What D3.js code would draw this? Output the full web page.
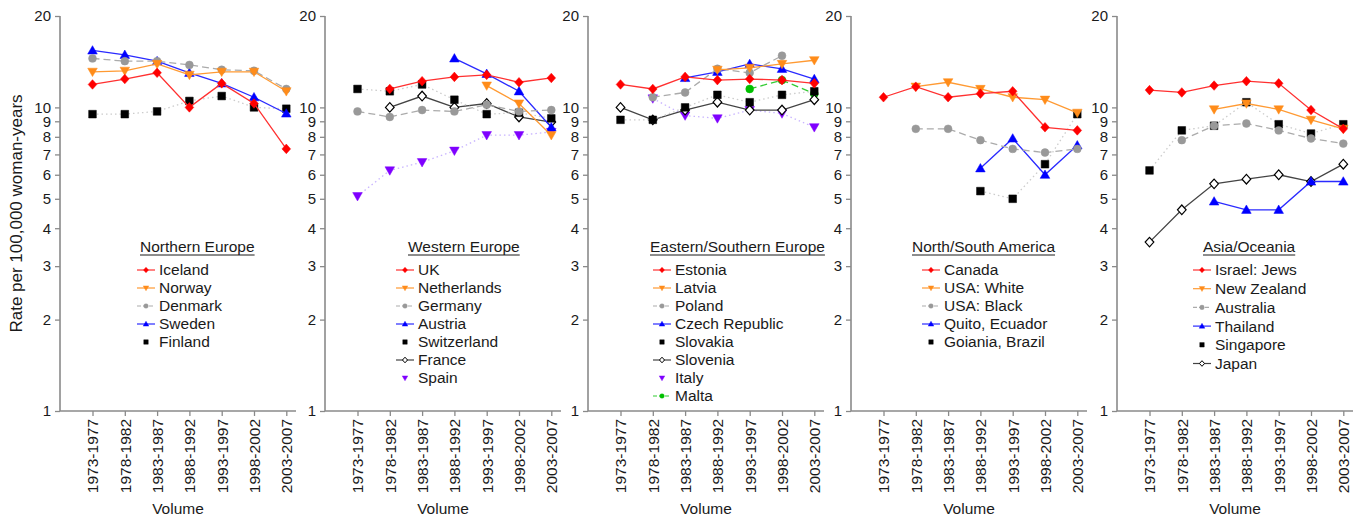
<!DOCTYPE html>
<html>
<head>
<meta charset="utf-8">
<script src="https://cdn.jsdelivr.net/npm/d3@7"></script>
<style>
  body { margin: 0; background: #fff; }
  svg { font-family: "Liberation Sans", Arial, sans-serif; }
</style>
</head>
<body>
<script>
// periods on the x axis, and the log ticks on y
var categories = ["1973-1977", "1978-1982", "1983-1987", "1988-1992", "1993-1997", "1998-2002", "2003-2007"];
var yTicks = [1, 2, 3, 4, 5, 6, 7, 8, 9, 10, 20];

// Northern Europe
var iceland = [11.9, 12.4, 13.0, 10.0, 12.0, 10.3, 7.3];
var norway = [13.1, 13.2, 13.9, 12.8, 13.1, 13.1, 11.3];
var denmark = [14.5, 14.2, 14.2, 13.8, 13.3, 13.2, 11.5];
var sweden = [15.4, 14.9, 14.2, 13.0, 12.0, 10.8, 9.55];
var finland = [9.5, 9.5, 9.7, 10.5, 10.9, 10.0, 9.9];

// Western Europe
var uk = [null, 11.5, 12.2, 12.6, 12.8, 12.1, 12.5];
var netherlands = [null, null, null, null, 11.8, 10.3, 8.1];
var germany = [9.7, 9.3, 9.8, 9.7, 10.2, 9.7, 9.8];
var austria = [null, null, null, 14.5, 12.9, 11.3, 8.6];
var switzerland = [11.5, 11.3, 11.9, 10.6, 9.5, 9.6, 9.2];
var france = [null, 10.0, 10.9, 10.0, 10.3, 9.3, 8.95];
var spain = [5.1, 6.2, 6.6, 7.2, 8.1, 8.1, 8.3];

// Eastern/Southern Europe
var estonia = [11.9, 11.5, 12.6, 12.3, 12.4, 12.3, 12.0];
var latvia = [null, null, null, 13.3, 13.5, 13.9, 14.3];
var poland = [null, 10.8, 11.2, 13.4, 13.0, 14.8, null];
var czech = [null, null, 12.5, 13.1, 13.9, 13.4, 12.4];
var slovakia = [9.1, 9.1, 10.0, 11.0, 10.4, 11.0, 11.3];
var slovenia = [10.0, 9.1, 9.8, 10.4, 9.8, 9.8, 10.6];
var italy = [null, 10.7, 9.4, 9.2, 9.8, 9.55, 8.6];
var malta = [null, null, null, null, 11.5, 12.3, 11.1];

// North/South America
var canada = [10.8, 11.7, 10.8, 11.1, 11.3, 8.6, 8.4];
var usaWhite = [null, 11.7, 12.1, 11.5, 10.8, 10.6, 9.6];
var usaBlack = [null, 8.5, 8.5, 7.8, 7.3, 7.1, 7.3];
var quito = [null, null, null, 6.3, 7.9, 6.0, 7.5];
var goiania = [null, null, null, 5.3, 5.0, 6.5, 9.5];

// Asia/Oceania
var israel = [11.4, 11.2, 11.8, 12.2, 12.0, 9.8, 8.5];
var newZealand = [null, null, 9.85, 10.3, 9.85, 9.1, 8.5];
var australia = [null, 7.8, 8.7, 8.85, 8.4, 7.9, 7.6];
var thailand = [null, null, 4.9, 4.6, 4.6, 5.7, 5.7];
var singapore = [6.2, 8.4, 8.7, 10.4, 8.8, 8.2, 8.8];
var japan = [3.6, 4.6, 5.6, 5.8, 6.0, 5.7, 6.5];

// how each kind of series is drawn
var styles = {
  red:    {mark: "#ff0000", fill: "#ff0000", line: "#ff3030", dash: null,    shape: "diamond", lw: 1.3},
  orange: {mark: "#ff8c1a", fill: "#ff8c1a", line: "#ff9a33", dash: null,    shape: "triDown", lw: 1.3},
  gray:   {mark: "#999999", fill: "#999999", line: "#ababab", dash: "7,4",   shape: "circle",  lw: 1.3},
  blue:   {mark: "#0000ff", fill: "#0000ff", line: "#2a2aff", dash: null,    shape: "triUp",   lw: 1.3},
  black:  {mark: "#000000", fill: "#000000", line: "#cccccc", dash: "1.5,3", shape: "square",  lw: 1.3, noLegendLine: true},
  open:   {mark: "#000000", fill: "#ffffff", line: "#444444", dash: null,    shape: "diamond", lw: 1.3},
  purple: {mark: "#7f00ff", fill: "#7f00ff", line: "#c8b4ff", dash: "1.5,3", shape: "triDown", lw: 1.3, noLegendLine: true},
  green:  {mark: "#00c000", fill: "#00c000", line: "#33cc33", dash: "7,4",   shape: "circle",  lw: 1.3}
};

var panels = [
  {title: "Northern Europe", axisX: 60, titleX: 140, symX: 137, step: 18, series: [
    ["Iceland", iceland, "red"], ["Norway", norway, "orange"], ["Denmark", denmark, "gray"],
    ["Sweden", sweden, "blue"], ["Finland", finland, "black"]]},
  {title: "Western Europe", axisX: 325, titleX: 408, symX: 396, step: 18, series: [
    ["UK", uk, "red"], ["Netherlands", netherlands, "orange"], ["Germany", germany, "gray"],
    ["Austria", austria, "blue"], ["Switzerland", switzerland, "black"], ["France", france, "open"],
    ["Spain", spain, "purple"]]},
  {title: "Eastern/Southern Europe", axisX: 588, titleX: 650, symX: 653, step: 18, series: [
    ["Estonia", estonia, "red"], ["Latvia", latvia, "orange"], ["Poland", poland, "gray"],
    ["Czech Republic", czech, "blue"], ["Slovakia", slovakia, "black"], ["Slovenia", slovenia, "open"],
    ["Italy", italy, "purple"], ["Malta", malta, "green"]]},
  {title: "North/South America", axisX: 851, titleX: 912, symX: 922, step: 18, series: [
    ["Canada", canada, "red"], ["USA: White", usaWhite, "orange"], ["USA: Black", usaBlack, "gray"],
    ["Quito, Ecuador", quito, "blue"], ["Goiania, Brazil", goiania, "black"]]},
  {title: "Asia/Oceania", axisX: 1117, titleX: 1203, symX: 1193, step: 18.7, series: [
    ["Israel: Jews", israel, "red"], ["New Zealand", newZealand, "orange"], ["Australia", australia, "gray"],
    ["Thailand", thailand, "blue"], ["Singapore", singapore, "black"], ["Japan", japan, "open"]]}
];

var W = 1360, H = 521,
    yTop = 16, yBottom = 411,
    axisLen = 236,
    fontSize = 15.5,
    textCol = "#1a1a1a",
    axisCol = "#8a8a8a";

var svg = d3.select("body").append("svg")
  .attr("width", W)
  .attr("height", H);

var y = d3.scaleLog().domain([1, 20]).range([yBottom, yTop]);

// marker outline, r is about half the height
function shapePath(shape, r) {
  var p = d3.path();
  if (shape == "diamond") {
    p.moveTo(0, -r); p.lineTo(r * 0.9, 0); p.lineTo(0, r); p.lineTo(-r * 0.9, 0); p.closePath();
  } else if (shape == "triUp") {
    p.moveTo(0, -r); p.lineTo(r, r * 0.75); p.lineTo(-r, r * 0.75); p.closePath();
  } else if (shape == "triDown") {
    p.moveTo(0, r); p.lineTo(r, -r * 0.75); p.lineTo(-r, -r * 0.75); p.closePath();
  } else if (shape == "square") {
    var s = r * 0.8;
    p.rect(-s, -s, 2 * s, 2 * s);
  } else {
    p.arc(0, 0, r * 0.82, 0, 2 * Math.PI);
  }
  return p.toString();
}

// y axis title
svg.append("text")
  .attr("transform", "translate(22," + ((yTop + yBottom) / 2) + ") rotate(-90)")
  .attr("text-anchor", "middle")
  .style("font-size", "17px")
  .style("fill", textCol)
  .text("Rate per 100,000 woman-years");

panels.forEach(function(pn) {
  var x = d3.scalePoint()
    .domain(categories)
    .range([pn.axisX + 32.5, pn.axisX + 32.5 + 6 * 32.3]);

  var g = svg.append("g");

  // y axis
  var yAxis = g.append("g")
    .attr("transform", "translate(" + pn.axisX + ",0)")
    .call(d3.axisLeft(y).tickValues(yTicks).tickFormat(d3.format("d")).tickSize(5).tickPadding(4));
  yAxis.select(".domain").remove();
  yAxis.selectAll(".tick line").attr("stroke", axisCol).attr("stroke-width", 1.3);
  yAxis.selectAll(".tick text").style("font-size", "15px").style("fill", textCol)
    .style("font-family", "'Liberation Sans', Arial, sans-serif");

  // x axis
  var xAxis = g.append("g")
    .attr("transform", "translate(0," + yBottom + ")")
    .call(d3.axisBottom(x).tickSize(5));
  xAxis.select(".domain").remove();
  xAxis.selectAll(".tick line").attr("stroke", axisCol).attr("stroke-width", 1.3);
  xAxis.selectAll(".tick text")
    .style("font-size", fontSize + "px").style("fill", textCol)
    .style("font-family", "'Liberation Sans', Arial, sans-serif")
    .attr("text-anchor", "end")
    .attr("dy", "0.35em")
    .attr("transform", "translate(0,8) rotate(-90)")
    .attr("x", 0).attr("y", 0);

  g.append("line")
    .attr("x1", pn.axisX).attr("x2", pn.axisX)
    .attr("y1", yTop).attr("y2", yBottom)
    .attr("stroke", axisCol).attr("stroke-width", 1.6);
  g.append("line")
    .attr("x1", pn.axisX).attr("x2", pn.axisX + axisLen)
    .attr("y1", yBottom).attr("y2", yBottom)
    .attr("stroke", axisCol).attr("stroke-width", 1.6);

  g.append("text")
    .attr("x", pn.axisX + axisLen / 2)
    .attr("y", 514)
    .attr("text-anchor", "middle")
    .style("font-size", fontSize + "px")
    .style("fill", textCol)
    .text("Volume");

  var line = d3.line()
    .defined(function(d) { return d != null; })
    .x(function(d, i) { return x(categories[i]); })
    .y(function(d) { return y(d); });

  // draw last series first so the first legend entry ends up on top
  pn.series.slice().reverse().forEach(function(s) {
    var st = styles[s[2]];
    g.append("path")
      .attr("d", line(s[1]))
      .attr("fill", "none")
      .attr("stroke", st.line)
      .attr("stroke-width", st.lw)
      .attr("stroke-dasharray", st.dash);
    g.selectAll(null)
      .data(s[1].map(function(v, i) { return {v: v, i: i}; }).filter(function(d) { return d.v != null; }))
      .enter().append("path")
      .attr("transform", function(d) { return "translate(" + x(categories[d.i]) + "," + y(d.v) + ")"; })
      .attr("d", shapePath(st.shape, 4.8))
      .attr("fill", st.fill)
      .attr("stroke", st.mark)
      .attr("stroke-width", s[2] == "open" ? 1.2 : 0.5);
  });

  // legend
  var title = g.append("text")
    .attr("x", pn.titleX)
    .attr("y", 252)
    .style("font-size", fontSize + "px")
    .style("fill", textCol)
    .text(pn.title);
  var tw = title.node().getComputedTextLength();
  g.append("line")
    .attr("x1", pn.titleX).attr("x2", pn.titleX + tw)
    .attr("y1", 255).attr("y2", 255)
    .attr("stroke", textCol).attr("stroke-width", 1);

  pn.series.forEach(function(s, k) {
    var st = styles[s[2]];
    var cy = 270 + k * pn.step;
    if (!st.noLegendLine) {
      g.append("line")
        .attr("x1", pn.symX).attr("x2", pn.symX + 18)
        .attr("y1", cy).attr("y2", cy)
        .attr("stroke", st.line)
        .attr("stroke-width", 1.2)
        .attr("stroke-dasharray", st.dash ? "4,2" : null);
    }
    g.append("path")
      .attr("transform", "translate(" + (pn.symX + 9) + "," + cy + ")")
      .attr("d", shapePath(st.shape, 2.8))
      .attr("fill", st.fill)
      .attr("stroke", st.mark)
      .attr("stroke-width", s[2] == "open" ? 1 : 0.4);
    g.append("text")
      .attr("x", pn.symX + 22)
      .attr("y", cy)
      .attr("dy", "0.35em")
      .style("font-size", fontSize + "px")
      .style("fill", textCol)
      .text(s[0]);
  });
});
</script>
</body>
</html>
